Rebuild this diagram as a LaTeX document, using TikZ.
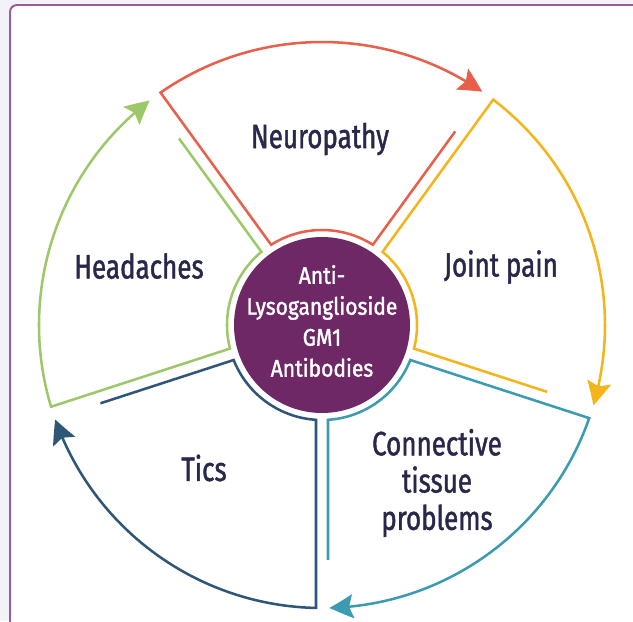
\documentclass[tikz,border=0pt]{standalone}
\usepackage{fontspec}
\setmainfont{Fira Sans}[FakeStretch=0.77, FakeBold=1.3]
\newfontfamily\hubfont{Fira Sans}[FakeStretch=0.88, FakeBold=1.6]
\usetikzlibrary{arrows.meta,bending}

\definecolor{pagegray}{HTML}{F2F3F8}
\definecolor{frameline}{HTML}{9C5A9A}
\definecolor{hubpurple}{HTML}{6E2866}
\definecolor{labelink}{HTML}{28284A}
\definecolor{segred}{HTML}{E8604C}
\definecolor{segyellow}{HTML}{F4B41A}
\definecolor{segteal}{HTML}{3A9BB2}
\definecolor{segnavy}{HTML}{2F5677}
\definecolor{seggreen}{HTML}{9DC86A}

\tikzset{
  segline/.style={line width=1.8pt, -{Stealth[length=17pt, width=17pt, inset=3pt, bend]}},
  seglabel/.style={text=labelink, font=\fontsize{24}{26.5}\selectfont, align=center},
  hubtext/.style={text=white, font=\hubfont\fontsize{17}{22}\selectfont, align=center}
}

\begin{document}
\begin{tikzpicture}[x=0.025cm, y=0.025cm]
\pgfmathsetmacro{\R}{283}  % outer arc
\pgfmathsetmacro{\Ri}{95}  % inner arc
\pgfmathsetmacro{\Rs}{235} % where the short side stops
\pgfmathsetmacro{\D}{6}    % half of the gap between segments

\useasboundingbox (-322,325) rectangle (311,-296);
\fill[pagegray] (-322,325) rectangle (311,-296);
\begin{scope}
\clip (-322,325) rectangle (311,-296);
\draw[frameline, line width=1.4pt, fill=white, rounded corners=5]
  (-312,320) rectangle (340,-330);
\end{scope}

% one open segment per symptom, arrow runs clockwise into the next one
\foreach \c/\col in {90/segred, 18/segyellow, -54/segteal, -126/segnavy, 162/seggreen} {
\pgfmathsetmacro{\ga}{\c-36}
\pgfmathsetmacro{\gb}{\c+36}
\draw[segline, \col]
  ({\ga+asin(\D/\Rs)}:\Rs) -- ({\ga+asin(\D/\Ri)}:\Ri)
  arc[start angle={\ga+asin(\D/\Ri)}, end angle={\gb-asin(\D/\Ri)}, radius=\Ri]
  -- ({\gb-asin(\D/\R)}:\R)
  arc[start angle={\gb-asin(\D/\R)}, end angle={\ga+1.5}, radius=\R];
}

\fill[hubpurple] (0,0) circle[radius=88];
\node[hubtext] (hub) at (0,4) {Anti-\\Lysoganglioside\\GM1\\Antibodies};

\node[seglabel] (neuro) at (-2,186) {Neuropathy};
\node[seglabel] (joint) at (179,58) {Joint pain};
\node[seglabel] (tissue) at (115,-158) {Connective\\tissue\\problems};
\node[seglabel] (tics) at (-118,-143) {Tics};
\node[seglabel] (head) at (-183,59) {Headaches};
\end{tikzpicture}
\end{document}
